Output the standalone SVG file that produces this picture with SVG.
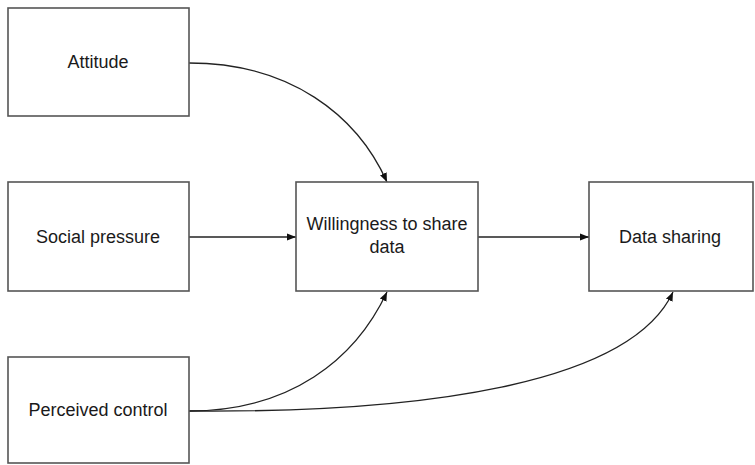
<svg xmlns="http://www.w3.org/2000/svg" width="755" height="465" viewBox="0 0 755 465">
<style>
.box{fill:#fff;stroke:#555;stroke-width:1.6}
.lbl{font-family:"Liberation Sans",Arial,sans-serif;font-size:18px;fill:#1a1a1a;text-anchor:middle;dominant-baseline:central}
.edge{fill:none;stroke:#222;stroke-width:1.3;marker-end:url(#ah)}
</style>
<defs>
<marker id="ah" viewBox="0 0 10 10" refX="10" refY="5" markerWidth="9" markerHeight="9" markerUnits="userSpaceOnUse" orient="auto">
<path d="M0,1 L10,5 L0,9 z" fill="#111"/>
</marker>
</defs>
<rect width="755" height="465" fill="#fff"/>
<g id="connectors">
<path class="edge" d="M189,63 C290,63 357,115 387,182"/>
<path class="edge" d="M189,237 L296,237"/>
<path class="edge" d="M478,237 L589,237"/>
<path class="edge" d="M189,411 C290,411 355,360 387,292"/>
<path class="edge" d="M189,411 C420,413 630,385 673,292"/>
</g>
<g id="attitude"><rect class="box" x="8" y="8" width="181" height="108"/><text class="lbl" x="98" y="62">Attitude</text></g>
<g id="social"><rect class="box" x="8" y="182" width="181" height="109"/><text class="lbl" x="98" y="237">Social pressure</text></g>
<g id="perceived"><rect class="box" x="8" y="357" width="181" height="106"/><text class="lbl" x="98" y="410">Perceived control</text></g>
<g id="willingness"><rect class="box" x="296" y="182" width="182" height="109"/><text class="lbl" x="387" y="224">Willingness to share</text><text class="lbl" x="387" y="247">data</text></g>
<g id="datasharing"><rect class="box" x="589" y="182" width="164" height="109"/><text class="lbl" x="670" y="237">Data sharing</text></g>
</svg>
